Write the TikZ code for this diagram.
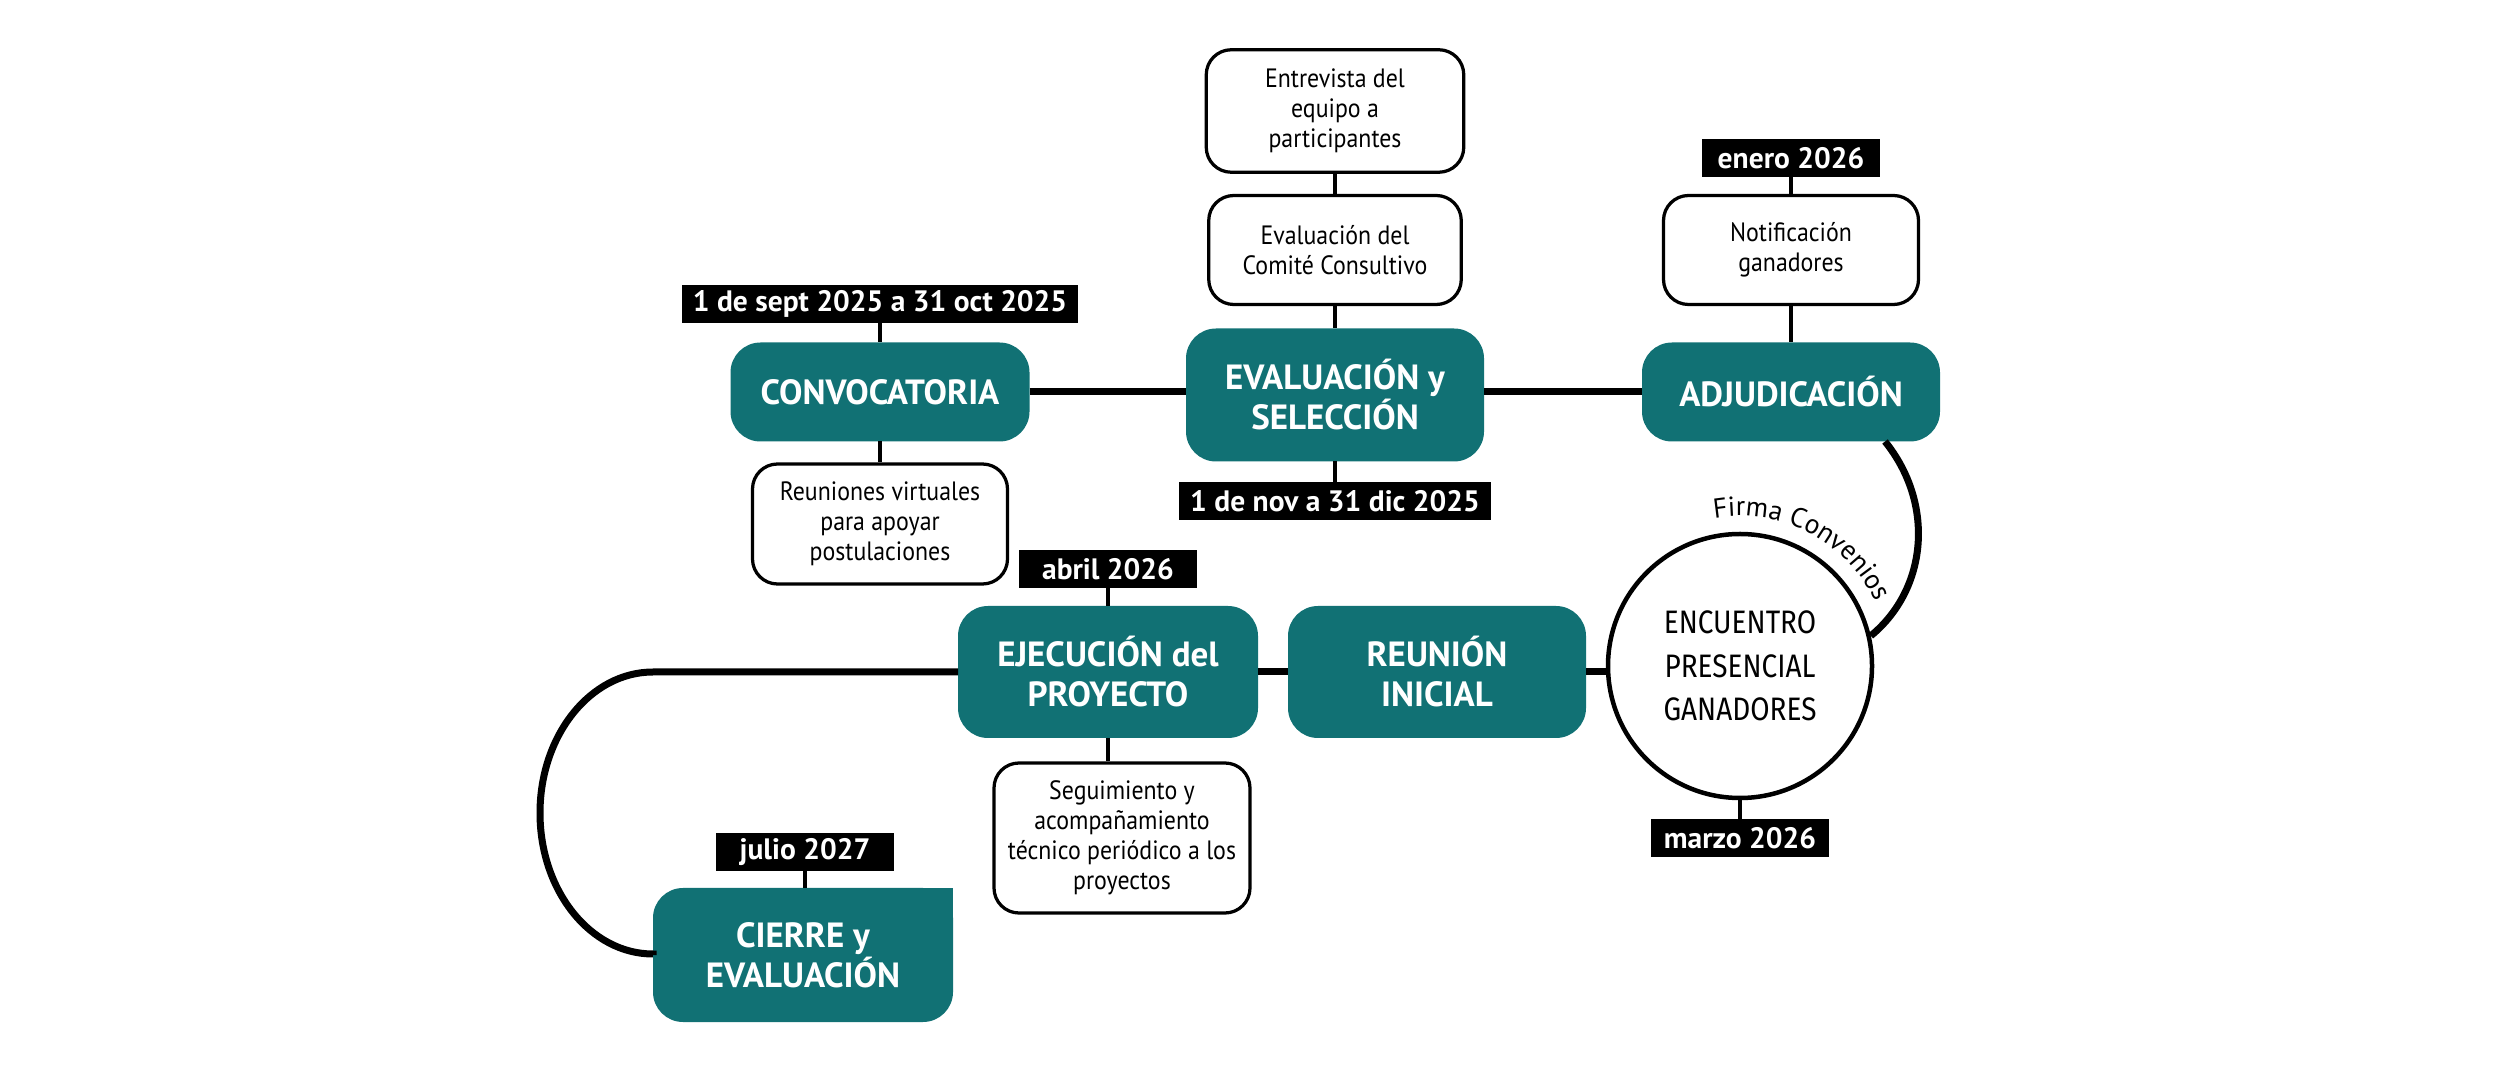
\documentclass[tikz,border=0pt]{standalone}
\usepackage{fontspec}
\setmainfont{PT Sans}
\newfontfamily\boxfont[FakeStretch=0.9]{PT Sans}
\newfontfamily\thinfont[FakeStretch=0.86]{Fira Sans}
\usepackage{tikz}
\usetikzlibrary{calc,decorations.text}
\definecolor{tealbox}{RGB}{17,113,116}

\begin{document}
\begin{tikzpicture}[x=0.4pt,y=0.4pt,yscale=-1,xscale=1,
  stage/.style={fill=tealbox, rounded corners=12pt, text=white, align=center, inner sep=0pt, outer sep=0pt,
    font=\bfseries\fontsize{14}{16}\selectfont},
  datetag/.style={fill=black, text=white, inner xsep=4.5pt, inner ysep=0pt, minimum height=15pt,
    minimum width=71pt, font=\bfseries\fontsize{11.8}{13}\selectfont},
  notebox/.style={draw, line width=1.3pt, rounded corners=10pt, fill=white, align=center, inner sep=0pt,
    font=\boxfont\fontsize{10.6}{12}\selectfont},
  trunk/.style={line width=2.8pt},
  twig/.style={line width=1.4pt}]
  \useasboundingbox (0,0) rectangle (2500,1070);

  % Stage: Convocatoria
  \node [stage, minimum width=119.6pt, minimum height=39.6pt] (conv) at (880,392) {CONVOCATORIA};
  \node [datetag] (convdate) at (880,304) {1 de sept 2025 a 31 oct 2025};
  \node [notebox, minimum width=102pt, minimum height=48pt] (reuniones) at (880,524) {Reuniones virtuales\\para apoyar\\postulaciones};

  % Stage: Evaluacion
  \node [stage, minimum width=119.2pt, minimum height=53.2pt] (eval) at (1335,395) {EVALUACIÓN y\\SELECCIÓN};
  \node [notebox, minimum width=101pt, minimum height=43.6pt] (comite) at (1335,250) {Evaluación del\\Comité Consultivo};
  \node [notebox, minimum width=103pt, minimum height=49pt] (entrevista) at (1335,111) {Entrevista del\\equipo a\\participantes};
  \node [datetag] (novdate) at (1335,501) {1 de nov a 31 dic 2025};

  % Stage: Adjudicacion
  \node [stage, minimum width=119.2pt, minimum height=39.6pt] (adj) at (1791,392) {ADJUDICACIÓN};
  \node [notebox, minimum width=102pt, minimum height=43.6pt] (notif) at (1791,250) {Notificación\\ganadores};
  \node [datetag] (enero) at (1791,158) {enero 2026};

  % Shape: Circle
  \node [circle, draw, line width=1.8pt, minimum size=105.6pt, inner sep=0pt, align=center,
    font=\thinfont\fontsize{13}{17.5}\selectfont] (circ) at (1740,666) {ENCUENTRO\\PRESENCIAL\\GANADORES};
  \node [datetag] (marzo) at (1740,838) {marzo 2026};

  % Stage: Reunion y Ejecucion
  \node [stage, minimum width=119.2pt, minimum height=52.8pt] (reu) at (1437,672) {REUNIÓN\\INICIAL};
  \node [stage, minimum width=120pt, minimum height=52.8pt] (ejec) at (1108,672) {EJECUCIÓN del\\PROYECTO};
  \node [datetag] (abril) at (1108,569) {abril 2026};
  \node [notebox, minimum width=102.4pt, minimum height=60pt] (seguim) at (1122,838) {Seguimiento y\\acompañamiento\\técnico periódico a los\\proyectos};

  % Stage: Cierre
  \node [stage, minimum width=120pt, minimum height=53.6pt] (cierre) at (803,955) {};
  \fill [tealbox] (cierre.north east) rectangle ++(-35,35);
  \node [text=white, align=center, font=\bfseries\fontsize{14}{16}\selectfont] at (cierre.center) {CIERRE y\\EVALUACIÓN};
  \node [datetag] (julio) at (805,852) {julio 2027};

  % Main line
  \draw [trunk] (conv.east) -- (conv.east -| eval.west);
  \draw [trunk] (eval.east |- adj.west) -- (adj.west);
  \draw [trunk] ($(adj.south)+(94,0)$) .. controls +(50,62) and +(57,-47) .. (circ.13);
  \draw [trunk] (reu.east) -- (reu.east -| circ.west);
  \draw [trunk] (ejec.east) -- (reu.west);
  \draw [trunk] (ejec.west) -- (ejec.west -| cierre.west) arc[start angle=-90, end angle=-270, x radius=113, y radius=141] -- (cierre.west);

  % Connectors
  \draw [twig] (convdate.south) -- (conv.north);
  \draw [twig] (conv.south) -- (reuniones.north);
  \draw [twig] (entrevista.south) -- (comite.north);
  \draw [twig] (comite.south) -- (eval.north);
  \draw [twig] (eval.south) -- (novdate.north);
  \draw [twig] (enero.south) -- (notif.north);
  \draw [twig] (notif.south) -- (adj.north);
  \draw [twig] (circ.south) -- (marzo.north);
  \draw [twig] (abril.south) -- (ejec.north);
  \draw [twig] (ejec.south) -- (ejec.south |- seguim.north);
  \draw [twig] (julio.south) -- (julio.south |- cierre.north);

  % Text along circle
  \begin{scope}[shift={(circ.center)}, yscale=-1]
    \path [decorate, decoration={text along path, text align=center,
      text={|\fontsize{11}{12}\selectfont|Firma Convenios}}] (101:150) arc[start angle=101, end angle=24, radius=150];
  \end{scope}
\end{tikzpicture}
\end{document}
